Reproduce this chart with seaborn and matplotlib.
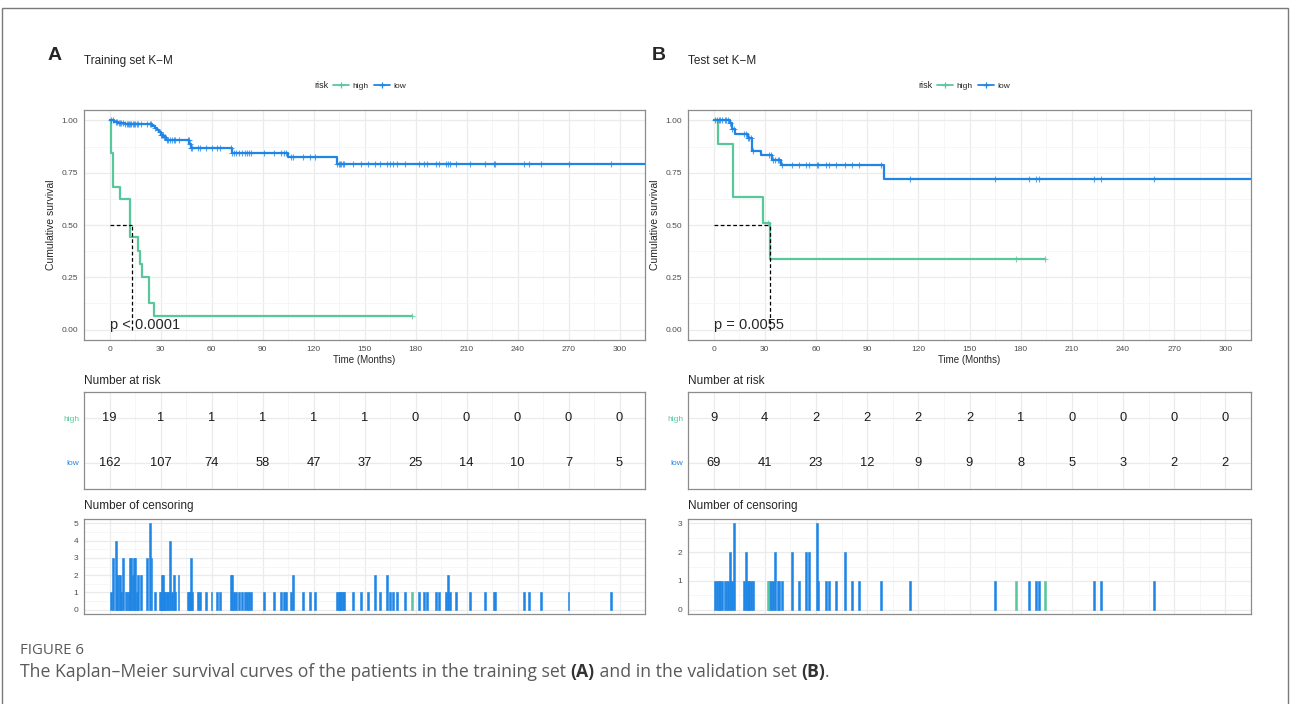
import numpy as np
import matplotlib
matplotlib.use("Agg")
import matplotlib.pyplot as plt
import seaborn as sns
from matplotlib.lines import Line2D
from matplotlib.patches import Rectangle

# ---------------------------------------------------------------- data
month_ticks = [0, 30, 60, 90, 120, 150, 180, 210, 240, 270, 300]
risk_groups = ["high", "low"]

# Training set Kaplan-Meier step functions (months, survival probability)
train_high_time = [0, 1, 2, 6, 12.3, 17, 18, 19, 23, 26]
train_high_surv = [1.0, 0.842, 0.684, 0.626, 0.441, 0.374, 0.314, 0.251, 0.126, 0.063]
train_high_end = 178
train_low_time = [0, 2.5, 5, 9, 25, 26.5, 28, 29, 30, 31.5, 33, 47, 48, 72, 105, 134]
train_low_surv = [1.0, 0.994, 0.987, 0.981, 0.972, 0.962, 0.953, 0.943, 0.931,
                  0.920, 0.907, 0.886, 0.867, 0.844, 0.826, 0.792]
train_low_end = 330

# Training set censoring times (months) and counts
train_high_cens_time = [178]
train_high_cens_n = [1]
train_low_cens_time = [1, 2, 3.9, 4.6, 5.3, 5.9, 6.6, 7.8, 9.4, 10, 10.6, 11.3,
                       12.1, 12.9, 13.6, 14.3, 15.2, 15.9, 16.9, 18.8, 21.8, 23.7,
                       24.7, 26.7, 29.6, 30.2, 30.8, 31.4, 32, 32.7, 33.7, 34.5,
                       35.7, 36.9, 37.8, 38.6, 40.6, 45.9, 46.6, 47.3, 48, 48.8,
                       51.8, 53.5, 57, 60, 63.5, 65, 71.3, 72.2, 73.2, 74.6,
                       76.2, 78, 79.5, 81, 82.2, 83.4, 91, 97, 101, 102.6,
                       104, 106.8, 108, 114, 118, 121, 134, 134.8, 135.6, 136.4,
                       137.2, 138, 143, 148, 152, 156, 159, 163, 165, 167,
                       169, 174, 182, 185, 187, 192, 194, 198, 199, 200.5,
                       204, 212, 221, 226, 227, 244, 247, 254, 270, 295]
train_low_cens_n = [1, 3, 4, 2, 2, 2, 1, 3, 1, 1, 1, 1,
                    3, 3, 2, 3, 3, 1, 2, 2, 3, 5,
                    3, 1, 1, 1, 2, 2, 1, 1, 1, 1,
                    4, 1, 2, 1, 2, 1, 1, 1, 3, 1,
                    1, 1, 1, 1, 1, 1, 2, 2, 1, 1,
                    1, 1, 1, 1, 1, 1, 1, 1, 1, 1,
                    1, 1, 2, 1, 1, 1, 1, 1, 1, 1,
                    1, 1, 1, 1, 1, 2, 1, 2, 1, 1,
                    1, 1, 1, 1, 1, 1, 1, 1, 2, 1,
                    1, 1, 1, 1, 1, 1, 1, 1, 1, 1]

# Test set Kaplan-Meier step functions
test_high_time = [0, 2.3, 11.6, 29, 33]
test_high_surv = [1.0, 0.889, 0.635, 0.509, 0.337]
test_high_end = 194.5
test_low_time = [0, 9.6, 10.8, 12.3, 20, 22.5, 27.8, 34, 39.7, 99.7]
test_low_surv = [1.0, 0.987, 0.960, 0.935, 0.916, 0.854, 0.834, 0.813, 0.786, 0.718]
test_low_end = 330

# Test set censoring times (months) and counts
test_high_cens_time = [31.8, 177, 194.5]
test_high_cens_n = [1, 1, 1]
test_low_cens_time = [0.7, 1.8, 3, 4, 5.1, 6.4, 7.5, 8.7, 9.6, 10.8, 12.1,
                      17.6, 19, 20, 21, 22, 23, 32.7, 33.8, 35, 36, 37.5,
                      38.6, 40, 46, 50.3, 54.4, 56, 60.4, 61.3, 66, 67.4, 72,
                      77, 81, 85, 98, 115, 165, 185, 189, 191, 223, 227, 258]
test_low_cens_n = [1, 1, 1, 1, 1, 1, 1, 1, 2, 1, 3,
                   1, 2, 1, 1, 1, 1, 1, 1, 1, 2, 1,
                   1, 1, 2, 1, 2, 2, 3, 1, 1, 1, 1,
                   2, 1, 1, 1, 1, 1, 1, 1, 1, 1, 1, 1]

# Number at risk at each tick month
train_risk_high = [19, 1, 1, 1, 1, 1, 0, 0, 0, 0, 0]
train_risk_low = [162, 107, 74, 58, 47, 37, 25, 14, 10, 7, 5]
test_risk_high = [9, 4, 2, 2, 2, 2, 1, 0, 0, 0, 0]
test_risk_low = [69, 41, 23, 12, 9, 9, 8, 5, 3, 2, 2]

train_median = 13
test_median = 33
train_pval = "p < 0.0001"
test_pval = "p = 0.0055"

# ---------------------------------------------------------------- style
sns.set_theme(style="white")
plt.rcParams["font.family"] = ["Liberation Sans", "DejaVu Sans"]

W, H = 1290, 704
GREEN = "#58C89C"
BLUE = "#1F86E6"
BORDER = "#8C8C8C"
TICKTXT = "#4D4D4D"
XLIM = (-15, 315)
minor_months = [15 + 30 * k for k in range(10)]

fig = plt.figure(figsize=(W / 100, H / 100), dpi=100)
fig.patch.set_facecolor("white")


def px_axes(l, t, r, b):
    return fig.add_axes([l / W, 1 - b / H, (r - l) / W, (b - t) / H])


def fx(x):
    return x / W


def fy(y):
    return 1 - y / H


def frame(ax):
    ax.set_facecolor("white")
    for s in ax.spines.values():
        s.set_color(BORDER)
        s.set_linewidth(0.9)
    ax.set_axisbelow(True)
    ax.set_xlim(*XLIM)
    ax.set_xticks(month_ticks)
    ax.set_xticks(minor_months, minor=True)
    ax.grid(which="major", color="#EBEBEB", lw=0.9)
    ax.grid(which="minor", color="#F5F5F5", lw=0.6)
    ax.tick_params(which="minor", length=0)
    ax.tick_params(which="major", labelsize=6, labelcolor=TICKTXT,
                   length=2.5, width=0.6, color="#333333", pad=1.5)


def step_value(times, surv, t):
    i = np.searchsorted(np.asarray(times), t, side="right") - 1
    return np.asarray(surv)[i]


def km_panel(l, r, curves, median, pval):
    ax = px_axes(l, 110, r, 340)
    frame(ax)
    ax.set_ylim(-0.05, 1.05)
    ax.set_yticks([0, 0.25, 0.5, 0.75, 1.0])
    ax.set_yticklabels(["0.00", "0.25", "0.50", "0.75", "1.00"])
    ax.set_yticks([0.125, 0.375, 0.625, 0.875], minor=True)
    ax.set_xlabel("Time (Months)", fontsize=7, labelpad=1.5)
    ax.set_ylabel("Cumulative survival", fontsize=7.5, labelpad=4)
    for times, surv, end, ctimes, color in curves:
        xs = list(times) + [end]
        ys = list(surv) + [surv[-1]]
        sns.lineplot(x=xs, y=ys, drawstyle="steps-post", color=color, lw=1.6,
                     estimator=None, sort=False, legend=False, ax=ax, zorder=3)
        cy = [step_value(times, surv, t) for t in ctimes]
        ax.plot(ctimes, cy, ls="none", marker="+", ms=5, mew=0.8,
                color=color, alpha=0.75, zorder=4, clip_on=True)
    ax.plot([0, median], [0.5, 0.5], ls=(0, (3, 2)), color="black", lw=0.9, zorder=5)
    ax.plot([median, median], [0, 0.5], ls=(0, (3, 2)), color="black", lw=0.9, zorder=5)
    ax.text(0, 0.004, pval, fontsize=10.5, ha="left", va="baseline", zorder=6)
    return ax


def risk_panel(l, r, high, low):
    ax = px_axes(l, 392, r, 489)
    frame(ax)
    ax.set_ylim(0.4, 2.6)
    ax.set_yticks([2, 1])
    ax.set_yticklabels(risk_groups)
    for lab, c in zip(ax.get_yticklabels(), [GREEN, BLUE]):
        lab.set_color(c)
    ax.tick_params(axis="x", which="major", length=0, labelbottom=False)
    ax.tick_params(axis="y", which="major", labelsize=6, length=2, color="#555555")
    ax.grid(axis="y", which="minor", visible=False)
    for t, nh, nl in zip(month_ticks, high, low):
        ax.text(t, 2, str(nh), ha="center", va="center", fontsize=9.3, color="#1a1a1a")
        ax.text(t, 1, str(nl), ha="center", va="center", fontsize=9.3, color="#1a1a1a")
    fig.text(fx(l), fy(381), "Number at risk", fontsize=8.5, va="center", ha="left")
    return ax


def censor_panel(l, r, ymax, groups):
    ax = px_axes(l, 519, r, 614)
    frame(ax)
    pad = 0.05 * ymax
    ax.set_ylim(-pad, ymax + pad)
    ax.set_yticks(range(ymax + 1))
    ax.set_yticks([k + 0.5 for k in range(ymax)], minor=True)
    ax.tick_params(axis="x", which="major", length=0, labelbottom=False)
    for times, counts, color in groups:
        ax.bar(times, counts, width=1.15, color=color, edgecolor=color,
               lw=0.4, zorder=3)
    fig.text(fx(l), fy(506), "Number of censoring", fontsize=8.5, va="center", ha="left")
    return ax


def legend_row(x_risk, y):
    fig.text(fx(x_risk), fy(y), "risk", fontsize=6.5, va="center", ha="left")
    handles = [Line2D([], [], color=GREEN, lw=1.3, marker="+", ms=5, mew=0.9),
               Line2D([], [], color=BLUE, lw=1.3, marker="+", ms=5, mew=0.9)]
    fig.legend(handles, risk_groups, loc="center left",
               bbox_to_anchor=(fx(x_risk + 19), fy(y)), ncol=2, frameon=False,
               fontsize=6, handlelength=1.9, handletextpad=0.45,
               columnspacing=0.6, borderaxespad=0, borderpad=0)


# ---------------------------------------------------------------- panel A
km_panel(84, 645,
         [(train_high_time, train_high_surv, train_high_end, train_high_cens_time, GREEN),
          (train_low_time, train_low_surv, train_low_end, train_low_cens_time, BLUE)],
         train_median, train_pval)
risk_panel(84, 645, train_risk_high, train_risk_low)
censor_panel(84, 645, 5,
             [(train_low_cens_time, train_low_cens_n, BLUE),
              (train_high_cens_time, train_high_cens_n, GREEN)])
fig.text(fx(48), fy(55), "A", fontsize=14, weight="bold", va="center", ha="left")
fig.text(fx(84), fy(61), "Training set K\u2212M", fontsize=8.5, va="center", ha="left")
legend_row(314, 86)

# ---------------------------------------------------------------- panel B
km_panel(688, 1251,
         [(test_high_time, test_high_surv, test_high_end, test_high_cens_time, GREEN),
          (test_low_time, test_low_surv, test_low_end, test_low_cens_time, BLUE)],
         test_median, test_pval)
risk_panel(688, 1251, test_risk_high, test_risk_low)
censor_panel(688, 1251, 3,
             [(test_low_cens_time, test_low_cens_n, BLUE),
              (test_high_cens_time, test_high_cens_n, GREEN)])
fig.text(fx(652), fy(55), "B", fontsize=14, weight="bold", va="center", ha="left")
fig.text(fx(688), fy(61), "Test set K\u2212M", fontsize=8.5, va="center", ha="left")
legend_row(918, 86)

# ---------------------------------------------------------------- caption and frame
fig.add_artist(Rectangle((fx(2), -0.02), fx(1286), fy(8) + 0.02,
                         transform=fig.transFigure, fill=False,
                         edgecolor="#7a7a7a", lw=1.0))

cap_family = ["Open Sans", "DejaVu Sans"]
fig.text(fx(20), fy(650), "FIGURE 6", fontsize=10.8, color="#5a5a5a",
         family=cap_family, va="center", ha="left")

pieces = [("The Kaplan\u2013Meier survival curves of the patients in the training set ", "normal", "#5a5a5a"),
          ("(A)", "bold", "#333333"),
          (" and in the validation set ", "normal", "#5a5a5a"),
          ("(B)", "bold", "#333333"),
          (".", "normal", "#5a5a5a")]
renderer = fig.canvas.get_renderer()
x = fx(20)
for txt, wt, col in pieces:
    t = fig.text(x, fy(672), txt, fontsize=12.7, color=col, weight=wt,
                 family=cap_family, va="center", ha="left")
    bb = t.get_window_extent(renderer=renderer)
    x += bb.width / W

fig.savefig("out.png", dpi=100, facecolor="white")
